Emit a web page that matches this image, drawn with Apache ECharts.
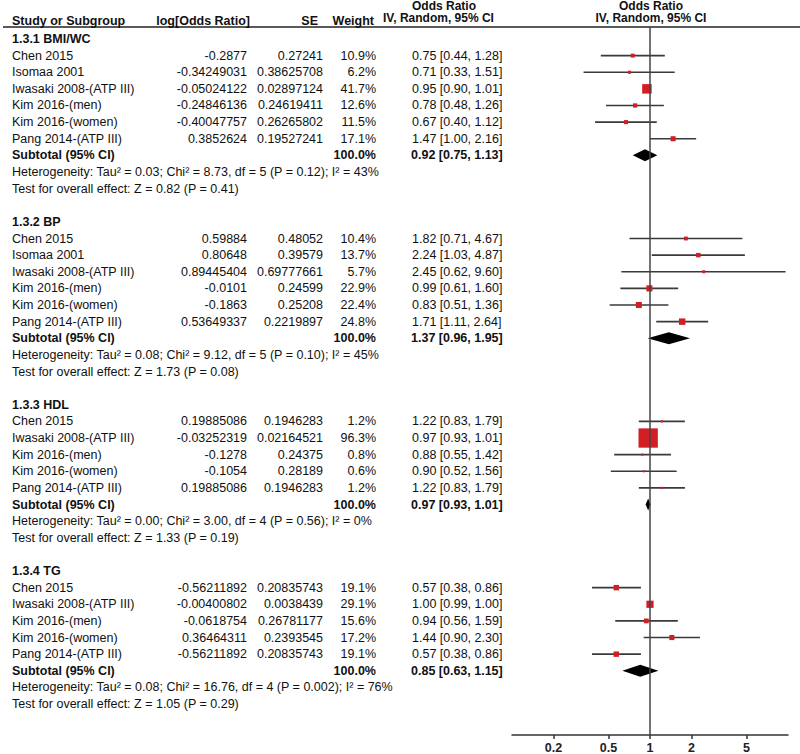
<!DOCTYPE html>
<html><head><meta charset="utf-8">
<script src="https://cdn.jsdelivr.net/npm/echarts@6/dist/echarts.min.js"></script>
<style>html,body{margin:0;padding:0;background:#fff}#c{width:800px;height:754px}</style>
</head><body><div id="c"></div>
<script>
// ---------------- DATA ----------------
const sectionTitles = ['1.3.1 BMI/WC', '1.3.2 BP', '1.3.3 HDL', '1.3.4 TG'];

const bmiNames  = ['Chen 2015', 'Isomaa 2001', 'Iwasaki 2008-(ATP III)', 'Kim 2016-(men)', 'Kim 2016-(women)', 'Pang 2014-(ATP III)'];
const bmiLogOR  = ['-0.2877', '-0.34249031', '-0.05024122', '-0.24846136', '-0.40047757', '0.3852624'];
const bmiSE     = ['0.27241', '0.38625708', '0.02897124', '0.24619411', '0.26265802', '0.19527241'];
const bmiWeight = [10.9, 6.2, 41.7, 12.6, 11.5, 17.1];
const bmiOR     = [0.75, 0.71, 0.95, 0.78, 0.67, 1.47];
const bmiLower  = [0.44, 0.33, 0.90, 0.48, 0.40, 1.00];
const bmiUpper  = [1.28, 1.51, 1.01, 1.26, 1.12, 2.16];

const bpNames  = ['Chen 2015', 'Isomaa 2001', 'Iwasaki 2008-(ATP III)', 'Kim 2016-(men)', 'Kim 2016-(women)', 'Pang 2014-(ATP III)'];
const bpLogOR  = ['0.59884', '0.80648', '0.89445404', '-0.0101', '-0.1863', '0.53649337'];
const bpSE     = ['0.48052', '0.39579', '0.69777661', '0.24599', '0.25208', '0.2219897'];
const bpWeight = [10.4, 13.7, 5.7, 22.9, 22.4, 24.8];
const bpOR     = [1.82, 2.24, 2.45, 0.99, 0.83, 1.71];
const bpLower  = [0.71, 1.03, 0.62, 0.61, 0.51, 1.11];
const bpUpper  = [4.67, 4.87, 9.60, 1.60, 1.36, 2.64];

const hdlNames  = ['Chen 2015', 'Iwasaki 2008-(ATP III)', 'Kim 2016-(men)', 'Kim 2016-(women)', 'Pang 2014-(ATP III)'];
const hdlLogOR  = ['0.19885086', '-0.03252319', '-0.1278', '-0.1054', '0.19885086'];
const hdlSE     = ['0.1946283', '0.02164521', '0.24375', '0.28189', '0.1946283'];
const hdlWeight = [1.2, 96.3, 0.8, 0.6, 1.2];
const hdlOR     = [1.22, 0.97, 0.88, 0.90, 1.22];
const hdlLower  = [0.83, 0.93, 0.55, 0.52, 0.83];
const hdlUpper  = [1.79, 1.01, 1.42, 1.56, 1.79];

const tgNames  = ['Chen 2015', 'Iwasaki 2008-(ATP III)', 'Kim 2016-(men)', 'Kim 2016-(women)', 'Pang 2014-(ATP III)'];
const tgLogOR  = ['-0.56211892', '-0.00400802', '-0.0618754', '0.36464311', '-0.56211892'];
const tgSE     = ['0.20835743', '0.0038439', '0.26781177', '0.2393545', '0.20835743'];
const tgWeight = [19.1, 29.1, 15.6, 17.2, 19.1];
const tgOR     = [0.57, 1.00, 0.94, 1.44, 0.57];
const tgLower  = [0.38, 0.99, 0.56, 0.90, 0.38];
const tgUpper  = [0.86, 1.00, 1.59, 2.30, 0.86];

const subtotalOR    = [0.92, 1.37, 0.97, 0.85];
const subtotalLower = [0.75, 0.96, 0.93, 0.63];
const subtotalUpper = [1.13, 1.95, 1.01, 1.15];
const heterogeneityText = [
  'Heterogeneity: Tau\u00b2 = 0.03; Chi\u00b2 = 8.73, df = 5 (P = 0.12); I\u00b2 = 43%',
  'Heterogeneity: Tau\u00b2 = 0.08; Chi\u00b2 = 9.12, df = 5 (P = 0.10); I\u00b2 = 45%',
  'Heterogeneity: Tau\u00b2 = 0.00; Chi\u00b2 = 3.00, df = 4 (P = 0.56); I\u00b2 = 0%',
  'Heterogeneity: Tau\u00b2 = 0.08; Chi\u00b2 = 16.76, df = 4 (P = 0.002); I\u00b2 = 76%'
];
const overallText = [
  'Test for overall effect: Z = 0.82 (P = 0.41)',
  'Test for overall effect: Z = 1.73 (P = 0.08)',
  'Test for overall effect: Z = 1.33 (P = 0.19)',
  'Test for overall effect: Z = 1.05 (P = 0.29)'
];
const tickValues = [0.2, 0.5, 1, 2, 5];
const tickLabels = ['0.2', '0.5', '1', '2', '5'];

// ---------------- BUILD ROWS ----------------
const sections = [
  {names: bmiNames, logor: bmiLogOR, se: bmiSE, w: bmiWeight, or: bmiOR, lo: bmiLower, hi: bmiUpper},
  {names: bpNames, logor: bpLogOR, se: bpSE, w: bpWeight, or: bpOR, lo: bpLower, hi: bpUpper},
  {names: hdlNames, logor: hdlLogOR, se: hdlSE, w: hdlWeight, or: hdlOR, lo: hdlLower, hi: hdlUpper},
  {names: tgNames, logor: tgLogOR, se: tgSE, w: tgWeight, or: tgOR, lo: tgLower, hi: tgUpper}
];
const rows = [];      // text rows
const studyPts = [];  // [log lo, log hi, log or, row, weight]
const diamonds = [];  // [log lo, log hi, log or, row]
let r = 0;
sections.forEach((s, k) => {
  rows.push({row: r, kind: 'title', text: sectionTitles[k]}); r++;
  s.names.forEach((n, j) => {
    rows.push({row: r, kind: 'study', name: n, logor: s.logor[j], se: s.se[j],
      w: s.w[j].toFixed(1) + '%',
      ci: s.or[j].toFixed(2) + ' [' + s.lo[j].toFixed(2) + ', ' + s.hi[j].toFixed(2) + ']'});
    studyPts.push([Math.log10(s.lo[j]), Math.log10(s.hi[j]), Math.log10(s.or[j]), r, s.w[j]]);
    r++;
  });
  rows.push({row: r, kind: 'subtotal', name: 'Subtotal (95% CI)', w: '100.0%',
    ci: subtotalOR[k].toFixed(2) + ' [' + subtotalLower[k].toFixed(2) + ', ' + subtotalUpper[k].toFixed(2) + ']'});
  diamonds.push([Math.log10(subtotalLower[k]), Math.log10(subtotalUpper[k]), Math.log10(subtotalOR[k]), r]);
  r++;
  rows.push({row: r, kind: 'note', text: heterogeneityText[k]}); r++;
  rows.push({row: r, kind: 'note', text: overallText[k]}); r++;
  r++; // blank line
});

// ---------------- CHART ----------------
const FONT = '"Liberation Sans", Arial, Helvetica, sans-serif';
const FS = 12.5;
const TXT = '#111';
const chart = echarts.init(document.getElementById('c'), null, {renderer: 'svg'});

function t(x, y, text, align, bold, size) {
  const fs = size || FS;
  return {type: 'text', x: x, y: y, style: {text: text, x: 0, y: 0, align: align, verticalAlign: 'middle',
    font: (bold ? 'bold ' : '') + fs + 'px ' + FONT, lineHeight: fs, fill: TXT}};
}

const option = {
  animation: false,
  backgroundColor: '#fff',
  grid: {left: 512, width: 276, top: 27, height: 709},
  xAxis: {
    type: 'value', min: -1, max: 1,
    splitLine: {show: false},
    axisLine: {show: true, onZero: false, lineStyle: {color: '#333', width: 1.5}},
    axisTick: {show: true, customValues: tickValues.map(Math.log10), length: 4, lineStyle: {color: '#333', width: 1.5}},
    axisLabel: {
      customValues: tickValues.map(Math.log10), margin: 6,
      fontFamily: FONT, fontSize: FS, fontWeight: 'bold', color: '#222',
      formatter: function (v) {
        const i = tickValues.findIndex(tv => Math.abs(Math.log10(tv) - v) < 1e-6);
        return i >= 0 ? tickLabels[i] : '';
      }
    }
  },
  yAxis: {type: 'value', inverse: true, min: -0.7207, max: 41.862, show: false},
  graphic: [
    {type: 'line', shape: {x1: 3, y1: 27, x2: 800, y2: 27}, style: {stroke: '#222', lineWidth: 1.3}},
    t(12, 21, 'Study or Subgroup', 'left', true),
    t(250, 21, 'log[Odds Ratio]', 'right', true),
    t(318, 21, 'SE', 'right', true),
    t(374, 21, 'Weight', 'right', true),
    t(412, 5.5, 'Odds Ratio', 'left', true, 12),
    t(383, 18, 'IV, Random, 95% CI', 'left', true, 12),
    t(651, 5.5, 'Odds Ratio', 'center', true, 12),
    t(651, 18, 'IV, Random, 95% CI', 'center', true, 12)
  ],
  series: [
    {
      type: 'custom', name: 'text', clip: false, silent: true,
      data: rows.map(o => [0, o.row]),
      renderItem: function (params, api) {
        const o = rows[params.dataIndex];
        const y = api.coord([0, api.value(1)])[1];
        const ch = [];
        if (o.kind === 'title') ch.push(t(12, y, o.text, 'left', true));
        else if (o.kind === 'note') ch.push(t(12, y, o.text, 'left', false));
        else if (o.kind === 'study') {
          ch.push(t(12, y, o.name, 'left', false));
          ch.push(t(247, y, o.logor, 'right', false));
          ch.push(t(323, y, o.se, 'right', false));
          ch.push(t(376, y, o.w, 'right', false));
          ch.push(t(412, y, o.ci, 'left', false));
        } else if (o.kind === 'subtotal') {
          ch.push(t(12, y, o.name, 'left', true));
          ch.push(t(376, y, o.w, 'right', true));
          ch.push(t(411, y, o.ci, 'left', true));
        }
        return {type: 'group', children: ch};
      }
    },
    {
      type: 'custom', name: 'studies', clip: false,
      data: studyPts,
      renderItem: function (params, api) {
        const p1 = api.coord([api.value(0), api.value(3)]);
        const p2 = api.coord([api.value(1), api.value(3)]);
        const c = api.coord([api.value(2), api.value(3)]);
        const s = 2 + 0.18 * api.value(4);
        return {type: 'group', children: [
          {type: 'line', shape: {x1: p1[0], y1: p1[1], x2: p2[0], y2: p2[1]}, style: {stroke: '#3a3a3a', lineWidth: 1.6}},
          {type: 'rect', shape: {x: c[0] - s / 2, y: c[1] - s / 2, width: s, height: s}, style: {fill: '#d21f26'}}
        ]};
      },
      markLine: {
        symbol: 'none', silent: true, label: {show: false},
        lineStyle: {color: '#444', width: 1.5, type: 'solid'},
        data: [{xAxis: 0}]
      }
    },
    {
      type: 'custom', name: 'subtotals', clip: false,
      data: diamonds,
      renderItem: function (params, api) {
        const a = api.coord([api.value(0), api.value(3)]);
        const b = api.coord([api.value(1), api.value(3)]);
        const c = api.coord([api.value(2), api.value(3)]);
        const h = 6;
        return {type: 'polygon', shape: {points: [[a[0], a[1]], [c[0], c[1] - h], [b[0], b[1]], [c[0], c[1] + h]]},
          style: {fill: '#000'}};
      }
    }
  ]
};
chart.setOption(option);
</script>
</body></html>
